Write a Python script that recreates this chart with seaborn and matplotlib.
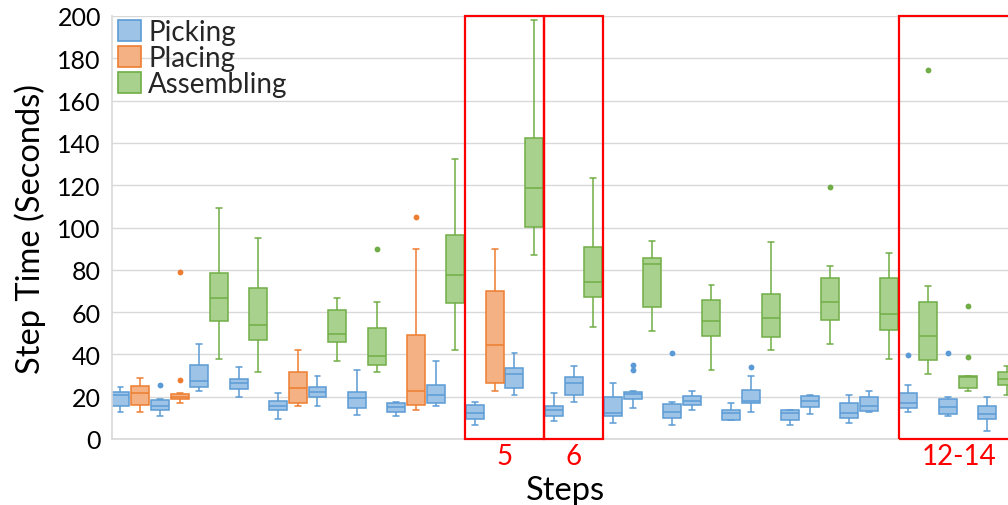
import pandas as pd
import seaborn as sns
import matplotlib.pyplot as plt
from matplotlib.patches import Patch, Rectangle
from matplotlib.transforms import blended_transform_factory

tasks = ["Picking", "Placing", "Assembling"]
fill_colors = {"Picking": "#9DC3E6", "Placing": "#F4B183", "Assembling": "#A9D18E"}
edge_colors = {"Picking": "#5B9BD5", "Placing": "#ED7D31", "Assembling": "#70AD47"}

# one entry per box, left to right (five-number summary)
box_task = [
    "Picking", "Placing", "Picking", "Placing", "Picking", "Assembling",
    "Picking", "Assembling", "Picking", "Placing", "Picking", "Assembling",
    "Picking", "Assembling", "Picking", "Placing", "Picking", "Assembling",
    "Picking", "Placing", "Picking", "Assembling",
    "Picking", "Picking", "Assembling",
    "Picking", "Picking", "Assembling", "Picking", "Picking", "Assembling",
    "Picking", "Picking", "Assembling", "Picking", "Picking", "Assembling",
    "Picking", "Picking", "Assembling",
    "Picking", "Assembling", "Picking", "Assembling", "Picking", "Assembling",
]
whisker_low = [12.6, 12.6, 10.7, 16.9, 22.8, 37.8, 19.7, 31.8, 9.5, 15.8, 15.5, 36.9,
               11.5, 31.8, 10.7, 13.6, 15.5, 42.1, 6.6, 22.8, 20.8, 87.0,
               8.7, 17.6, 52.8, 7.6, 14.8, 50.9, 6.6, 13.6, 32.6, 9.0, 12.6, 41.9,
               6.6, 11.7, 44.8, 7.6, 12.9, 38.0, 12.6, 30.6, 10.7, 22.8, 3.6, 20.8]
q1 = [15.5, 16.1, 13.9, 18.9, 24.4, 55.8, 23.6, 47.0, 13.7, 16.9, 20.0, 45.7,
      14.5, 35.1, 12.6, 16.1, 16.9, 64.3, 9.5, 26.5, 24.1, 100.4,
      11.0, 20.8, 67.1, 10.7, 18.8, 62.3, 9.8, 15.9, 48.8, 9.1, 16.9, 48.1,
      9.0, 15.0, 56.3, 9.8, 13.1, 51.4, 14.7, 37.2, 11.8, 24.1, 9.5, 25.7]
median = [20.8, 21.6, 15.8, 20.0, 27.3, 66.5, 26.3, 53.9, 15.4, 24.1, 22.1, 49.5,
          19.4, 39.1, 15.0, 22.8, 20.9, 77.4, 12.3, 44.3, 30.6, 118.7,
          13.9, 26.5, 74.1, 12.3, 21.4, 82.6, 12.6, 18.0, 55.8, 12.3, 18.1, 57.0,
          12.1, 17.8, 64.6, 12.5, 15.6, 58.9, 16.9, 48.6, 15.3, 29.5, 11.8, 28.4]
q3 = [22.4, 25.2, 18.4, 21.1, 35.0, 78.5, 28.4, 71.3, 18.1, 31.8, 24.4, 61.0,
      22.1, 52.5, 16.9, 49.2, 25.7, 96.3, 16.2, 69.8, 33.4, 142.2,
      15.5, 29.2, 90.6, 19.7, 22.4, 85.7, 16.4, 20.5, 65.6, 13.6, 23.3, 68.4,
      13.5, 20.2, 76.0, 16.9, 19.7, 76.0, 21.6, 64.6, 18.9, 29.6, 15.5, 31.5]
whisker_high = [24.4, 28.7, 18.9, 21.6, 44.8, 109.1, 33.9, 95.2, 21.6, 42.1, 29.6, 66.8,
                32.6, 64.6, 17.6, 90.0, 36.7, 132.2, 17.6, 90.0, 40.7, 198.3,
                21.6, 34.7, 123.3, 26.5, 22.7, 93.8, 17.5, 22.8, 72.8, 16.9, 29.8, 93.1,
                13.6, 21.0, 81.8, 21.0, 22.8, 87.8, 25.7, 72.2, 19.7, 29.8, 19.7, 34.7]

outlier_slot = [2, 3, 3, 13, 15, 26, 26, 28, 32, 36, 40, 41, 42, 43, 43]
outlier_value = [25.7, 79.1, 27.9, 90.0, 105.0, 35.0, 32.8, 40.7, 33.9, 119.1,
                 39.9, 174.5, 40.8, 62.7, 38.8]

highlight_start = [17.5, 21.5, 39.5]
highlight_end = [21.5, 24.5, 45.65]
highlight_label = ["5", "6", "12-14"]

slots = list(range(len(box_task)))
rows = []
for i in slots:
    for v in (whisker_low[i], q1[i], median[i], q3[i], whisker_high[i]):
        rows.append({"slot": i, "task": box_task[i], "value": v})
df = pd.DataFrame(rows)
flier_df = pd.DataFrame({"slot": outlier_slot, "value": outlier_value})
flier_df["task"] = [box_task[s] for s in outlier_slot]

sns.set_theme(style="whitegrid")
plt.rcParams["font.family"] = ["Lato", "DejaVu Sans"]

fig = plt.figure(figsize=(10.08, 5.06), dpi=100)
ax = fig.add_axes([112 / 1008, 66 / 506, 924.5 / 1008, 423 / 506])

for t in tasks:
    sub = df[df["task"] == t]
    sns.boxplot(data=sub, x="slot", y="value", order=slots, ax=ax,
                color=fill_colors[t], linecolor=edge_colors[t], saturation=1,
                width=0.91, whis=(0, 100), showfliers=False, linewidth=1.1,
                capwidths=0.3)
    fsub = flier_df[flier_df["task"] == t]
    sns.stripplot(data=fsub, x="slot", y="value", order=slots, ax=ax,
                  color=edge_colors[t], jitter=False, size=4.2, linewidth=0)

ax.set_xlim(-0.43, 46.5)
ax.set_ylim(0, 200)
ax.set_yticks(range(0, 201, 20))
ax.set_xticks([])
ax.tick_params(axis="y", length=0, pad=8, labelsize=18, labelcolor="black")
ax.grid(axis="y", color="#D9D9D9", linewidth=1)
for side in ("top", "right"):
    ax.spines[side].set_visible(False)
for side in ("left", "bottom"):
    ax.spines[side].set_color("#D9D9D9")

ax.set_ylabel("Step Time (Seconds)", fontsize=23.5, color="black", labelpad=8)
ax.set_xlabel("Steps", fontsize=23.5, color="black", va="baseline")
ax.xaxis.set_label_coords((565 - 112) / 924.5, -60 / 423)

trans = blended_transform_factory(ax.transData, ax.transAxes)
for s, e, lab in zip(highlight_start, highlight_end, highlight_label):
    ax.add_patch(Rectangle((s, 0), e - s, 1, transform=trans, fill=False,
                           edgecolor="#FF0000", linewidth=1.6, clip_on=False, zorder=5))
    ax.text((s + e) / 2, -17 / 423, lab, transform=trans, color="#FF0000",
            fontsize=20, ha="center", va="center")

handles = [Patch(facecolor=fill_colors[t], edgecolor=edge_colors[t], linewidth=1.2, label=t)
           for t in tasks]
ax.legend(handles=handles, loc="upper left", bbox_to_anchor=(0.007, 0.993), frameon=False,
          fontsize=20, handlelength=0.82, handleheight=0.82, handletextpad=0.25,
          labelspacing=0.0, borderpad=0.0, borderaxespad=0)

fig.savefig("out.png", dpi=100)
